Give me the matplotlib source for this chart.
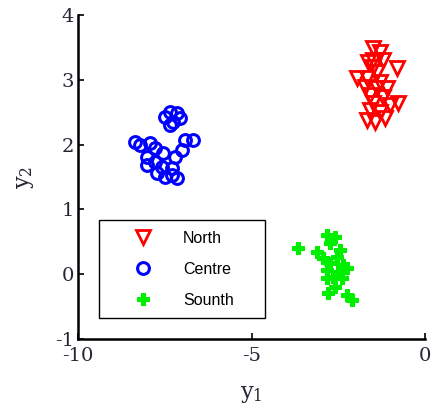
import matplotlib
matplotlib.use('Agg')
import matplotlib.pyplot as plt

plt.rcParams['font.family'] = ['DejaVu Serif']
plt.rcParams['mathtext.fontset'] = 'dejavuserif'
plt.rcParams['axes.unicode_minus'] = False

north_x = [-1.50, -1.30, -1.50, -1.64, -1.21, -0.81, -1.50, -1.38, -1.96, -1.67, -1.30, -1.73,
           -1.38, -1.10, -1.59, -1.21, -1.50, -1.01, -0.78, -1.59, -1.30, -1.67, -1.44, -1.15]
north_y = [3.49, 3.43, 3.31, 3.27, 3.31, 3.18, 3.20, 3.12, 3.03, 3.03, 2.97, 2.89,
           2.87, 2.87, 2.77, 2.73, 2.64, 2.61, 2.64, 2.53, 2.50, 2.38, 2.35, 2.41]

centre_x = [-7.35, -7.15, -7.49, -7.26, -7.06, -7.35, -8.36, -8.21, -7.93, -6.92, -6.69, -7.78,
            -7.00, -7.55, -8.01, -7.20, -7.78, -8.01, -7.58, -7.29, -7.72, -7.49, -7.15, -7.29]
centre_y = [2.50, 2.49, 2.43, 2.35, 2.41, 2.30, 2.04, 2.00, 2.02, 2.07, 2.07, 1.95,
            1.92, 1.87, 1.81, 1.81, 1.73, 1.69, 1.65, 1.64, 1.56, 1.50, 1.48, 1.53]

south_x = [-3.66, -2.82, -2.59, -2.74, -3.11, -2.45, -2.94, -2.54, -2.74, -2.36, -2.82, -2.51,
           -2.25, -2.65, -2.39, -2.82, -2.59, -2.80, -2.25, -2.10]
south_y = [0.40, 0.60, 0.57, 0.48, 0.34, 0.37, 0.25, 0.27, 0.17, 0.14, 0.06, 0.03,
           0.10, -0.04, -0.06, -0.06, -0.20, -0.29, -0.32, -0.40]

fig = plt.figure(figsize=(4.32, 4.16), dpi=100)
ax = fig.add_axes([0.181, 0.185, 0.803, 0.779])

ax.plot(north_x, north_y, 'v', color='red', mfc='none', mew=2, ms=10.5, label='North')
ax.plot(centre_x, centre_y, 'o', color='blue', mfc='none', mew=2.2, ms=8.5, label='Centre')
ax.plot(south_x, south_y, 'P', color='#00ee00', mec='#00ee00', mew=0.8, ms=8.5, label='Sounth')

ax.set_xlim(-10, 0)
ax.set_ylim(-1, 4)
ax.set_xticks([-10, -5, 0])
ax.set_yticks([-1, 0, 1, 2, 3, 4])
ax.spines['top'].set_visible(False)
ax.spines['right'].set_visible(False)
ax.spines['left'].set_linewidth(1.8)
ax.spines['bottom'].set_linewidth(1.8)
ax.tick_params(direction='in', length=4, width=1.2, labelsize=14, colors='black')
ax.tick_params(axis='y', pad=3)
ax.tick_params(axis='x', pad=6)
for lbl in ax.get_xticklabels() + ax.get_yticklabels():
    lbl.set_color('#262633')

ax.set_xlabel(r'$\mathregular{y_1}$', fontsize=16, labelpad=13, color='#262633')
ax.set_ylabel(r'$\mathregular{y_2}$', fontsize=16, labelpad=14, color='#262633')

leg = ax.legend(loc='lower left', bbox_to_anchor=(0.06, 0.065, 0.479, 0.312), mode='expand',
                borderaxespad=0, fancybox=False, edgecolor='black', framealpha=1,
                prop={'family': 'Liberation Sans', 'size': 11.5}, labelspacing=1.0,
                borderpad=0.65, handlelength=4.2, handletextpad=0.4)
leg.get_frame().set_linewidth(1.0)

plt.savefig('out.png')
